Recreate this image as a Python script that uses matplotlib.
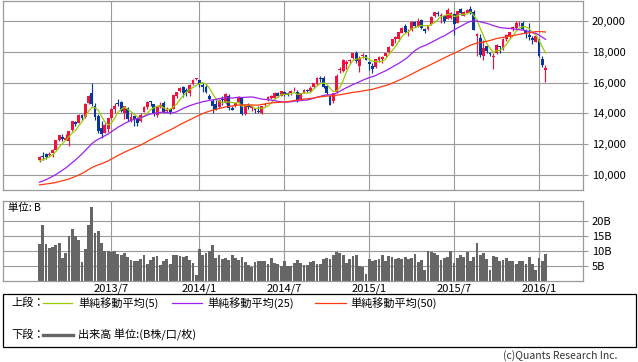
import numpy as np
import pandas as pd
import matplotlib
matplotlib.use("Agg")
import matplotlib.pyplot as plt
from matplotlib.lines import Line2D
from matplotlib.patches import Rectangle

# 週足データ (2013/1/28週 ～ 2016/1/18週)
opens = [10950, 11250, 11370, 11290, 11420, 11650, 12300, 12480, 12300, 12200,
         12900, 13450, 13400, 13900, 13750, 14700, 15300, 14500, 13850, 13050,
         12750, 13000, 13700, 14300, 14650, 14750, 14000, 14350, 13500, 13800,
         13650, 13500, 14100, 14400, 14800, 14600, 13900, 14400, 14650, 14150,
         14250, 14300, 15150, 15450, 15700, 15500, 15300, 15900, 16200, 16150,
         15850, 15700, 15100, 14800, 14600, 14400, 14950, 14650, 15150, 14350,
         14450, 14750, 15000, 13950, 14550, 14350, 14300, 14150, 14000, 14550,
         14900, 15000, 15000, 15350, 15150, 15400, 15300, 15300, 15500, 15400,
         14900, 15350, 15500, 15450, 15700, 15900, 16250, 16300, 15800, 15100,
         14800, 15400, 16800, 16750, 17200, 17400, 17600, 17900, 17100, 17700,
         17800, 17350, 17100, 17000, 17450, 17550, 17700, 18000, 18400, 18800,
         18800, 19250, 19650, 19400, 19400, 19950, 19700, 20050, 19500, 19450,
         19800, 20300, 20550, 20300, 20350, 20150, 20200, 20450, 19900, 20800,
         20350, 20550, 20800, 20600, 19000, 18900, 17700, 18350, 17900, 17650,
         17900, 18350, 18150, 18850, 19000, 19450, 19550, 19850, 19900, 19400,
         19100, 18900, 18650, 18820, 17500, 16800]
highs = [11220, 11460, 11410, 11500, 11670, 12300, 12570, 12650, 12650, 12860,
         13500, 13530, 13980, 13960, 14650, 15160, 15942, 14700, 13950, 13500,
         13400, 13700, 14350, 14650, 14950, 14800, 14500, 14400, 14050, 13850,
         13700, 14000, 14450, 14820, 14820, 14600, 14450, 14750, 14800, 14400,
         14300, 15200, 15400, 15700, 15800, 15650, 15900, 16200, 16320, 16170,
         16000, 15900, 15250, 14900, 14850, 14900, 15100, 15300, 15250, 14500,
         14700, 15100, 15000, 14550, 14650, 14500, 14320, 14450, 14500, 14700,
         15100, 15200, 15400, 15400, 15450, 15450, 15400, 15500, 15700, 15500,
         15350, 15600, 15600, 15750, 15950, 16350, 16400, 16400, 15850, 15100,
         15300, 16530, 17000, 17500, 17450, 17520, 17950, 18030, 17700, 17900,
         17820, 17400, 17250, 17550, 17700, 17750, 17950, 18350, 18850, 19000,
         19300, 19600, 19780, 19500, 20000, 20010, 20200, 20150, 19550, 19750,
         20300, 20600, 20650, 20500, 20400, 20868, 20600, 20550, 20650, 20850,
         20650, 20800, 20950, 20700, 19250, 19150, 18770, 18400, 18000, 17900,
         18500, 18400, 18900, 19150, 19300, 19650, 20000, 20000, 20000, 19500,
         19900, 19000, 19100, 18820, 17700, 17150]
lows = [10830, 11000, 11050, 11250, 11150, 11600, 12230, 12180, 12250, 11900,
        12850, 13150, 13350, 13550, 13700, 14600, 14480, 13550, 12750, 12420,
        12700, 12800, 13650, 14050, 14450, 14100, 13600, 13500, 13450, 13200,
        13200, 13450, 14100, 14300, 14450, 13850, 13750, 14350, 14000, 14050,
        13950, 14250, 15000, 15400, 15050, 15150, 15150, 15850, 16150, 15700,
        15400, 15300, 14850, 13995, 14200, 14350, 14550, 14600, 14200, 14200,
        14400, 14750, 13900, 13900, 14300, 14150, 14000, 14050, 13950, 14500,
        14800, 14900, 14900, 15050, 15100, 15100, 15150, 15200, 15450, 14750,
        14850, 15300, 15400, 15400, 15650, 15850, 16050, 15650, 15200, 14530,
        14700, 15300, 16600, 16700, 16900, 17300, 17550, 17250, 16670, 17600,
        17450, 16800, 16600, 16950, 17350, 17300, 17650, 17950, 18400, 18600,
        18700, 19200, 19200, 19000, 19350, 19600, 19600, 19500, 19250, 19400,
        19750, 20250, 20300, 19900, 19850, 20100, 20100, 19115, 19850, 20400,
        20300, 20500, 20450, 19400, 17714, 17650, 17450, 17900, 17700, 16901,
        17850, 17950, 18100, 18700, 18900, 19350, 19500, 19700, 19400, 18900,
        18750, 18500, 18650, 17650, 17000, 16017]
closes = [11191, 11153, 11173, 11385, 11606, 12283, 12560, 12338, 12397, 12833,
          13485, 13316, 13884, 13694, 14607, 15138, 14612, 13774, 12877, 12686,
          13230, 13677, 14309, 14506, 14589, 14129, 14466, 13615, 13752, 13660,
          13389, 13861, 14404, 14742, 14760, 14024, 14404, 14561, 14088, 14201,
          14086, 15165, 15381, 15661, 15299, 15403, 15870, 16178, 16291, 15912,
          15734, 15391, 14914, 14462, 14313, 14865, 14841, 15274, 14327, 14224,
          14696, 15063, 13960, 14516, 14429, 14457, 14199, 14097, 14462, 14632,
          15077, 15097, 15349, 15095, 15437, 15164, 15215, 15457, 15523, 14778,
          15318, 15539, 15425, 15668, 15948, 16321, 16229, 15708, 15300, 14532,
          15291, 16413, 16880, 17490, 17357, 17459, 17920, 17371, 17621, 17818,
          17450, 17197, 16864, 17511, 17674, 17648, 17913, 18332, 18798, 18971,
          19254, 19560, 19286, 19435, 19908, 19653, 20020, 19531, 19379, 19733,
          20264, 20563, 20461, 20407, 19990, 20706, 20539, 19780, 20650, 20544,
          20585, 20724, 20519, 19435, 19136, 17792, 18264, 18070, 17880, 17725,
          18438, 18291, 18825, 19083, 19265, 19597, 19879, 19883, 19504, 19230,
          18986, 18769, 19033, 17697, 17147, 16958]

# 移動平均用の過去終値 (2012/2 ～ 2013/1)
prev_closes = [8947, 9384, 9647, 9777, 9929, 10129, 10011, 10084, 9689, 9638,
               9561, 9521, 9380, 8954, 8611, 8580, 8440, 8459, 8721, 8798,
               9007, 9021, 8725, 8670, 8566, 8555, 8891, 9163, 9070, 8839,
               8871, 9159, 9110, 8870, 8863, 8534, 9002, 8933, 9051, 8757,
               9024, 9366, 9446, 9527, 9737, 9940, 10395, 10688, 10801, 10913,
               10926]

# 出来高 (B)
volume = [12.2, 18.5, 12.2, 11.0, 11.4, 12.0, 12.7, 7.6, 9.2, 15.1,
          17.2, 15.1, 13.6, 6.3, 10.8, 18.5, 24.5, 15.9, 16.5, 12.5,
          10.0, 9.9, 9.5, 9.9, 9.0, 8.6, 9.4, 8.0, 7.0, 6.8,
          6.7, 7.2, 8.8, 5.8, 7.1, 8.0, 8.2, 5.2, 6.6, 7.4,
          5.8, 8.5, 8.6, 8.2, 8.0, 8.2, 7.0, 6.0, 2.0, 10.6,
          8.6, 9.2, 10.0, 11.9, 7.8, 8.6, 7.4, 7.6, 7.0, 8.8,
          7.6, 6.9, 7.9, 6.4, 5.2, 4.5, 6.2, 6.8, 6.7, 6.5,
          5.8, 7.6, 6.0, 5.6, 5.1, 6.5, 5.1, 5.1, 6.0, 6.9,
          6.0, 5.2, 5.2, 6.2, 6.8, 5.8, 5.8, 7.4, 7.7, 7.4,
          8.6, 9.8, 9.2, 8.6, 5.9, 7.4, 8.3, 8.6, 5.0, 4.7,
          2.3, 7.3, 6.5, 7.0, 7.3, 8.6, 6.5, 8.2, 8.0, 7.4,
          7.8, 7.4, 8.1, 7.4, 7.8, 9.0, 6.3, 7.0, 3.8, 9.9,
          9.6, 9.2, 8.6, 6.9, 7.7, 8.0, 9.9, 6.0, 7.5, 8.6,
          8.1, 9.8, 6.5, 8.0, 12.8, 8.8, 9.2, 7.2, 3.6, 8.2,
          8.1, 6.5, 7.0, 7.5, 6.5, 6.8, 5.8, 6.8, 6.6, 5.5,
          7.9, 5.5, 3.5, 7.8, 6.8, 9.1]

price_ticks = [10000, 12000, 14000, 16000, 18000, 20000]
vol_ticks = [5, 10, 15, 20]

plt.rcParams['font.family'] = ['Noto Sans CJK JP', 'DejaVu Sans']

weeks = pd.date_range("2013-01-28", periods=len(closes), freq="W-MON")
x = np.arange(len(closes))
o = np.array(opens, dtype=float)
h = np.array(highs, dtype=float)
l = np.array(lows, dtype=float)
c = np.array(closes, dtype=float)

all_close = pd.Series(prev_closes + closes, dtype=float)
n = len(closes)
ma5 = all_close.rolling(5).mean().values[-n:]
ma25 = all_close.rolling(25).mean().values[-n:]
ma50 = all_close.rolling(50).mean().values[-n:]

# 月替わり (1月/7月) の週
tick_idx = [i for i in range(1, n)
            if weeks[i].month != weeks[i - 1].month and weeks[i].month in (1, 7)]
tick_lbl = [f"{weeks[i].year}/{weeks[i].month}" for i in tick_idx]

RED = "#f0123e"
BLUE = "#06389c"
GRID = "#9a9a9a"
W, H = 638, 362


def box(left, top, right, bottom):
    return [left / W, 1 - bottom / H, (right - left) / W, (bottom - top) / H]


fig = plt.figure(figsize=(W / 100, H / 100), dpi=100)
ax = fig.add_axes(box(3, 0.5, 582.7, 190.3))
axv = fig.add_axes(box(3, 201, 582.7, 281))

# --- 上段: ローソク足 + 移動平均 ---
up = c >= o
cols = np.where(up, RED, BLUE)
ax.vlines(x, l, h, colors=cols, lw=0.85, zorder=2)
ax.bar(x, np.maximum(np.abs(c - o), 40), bottom=np.minimum(o, c),
       width=0.88, color=cols, linewidth=0, zorder=3)
ax.plot(x, ma5, color="#99cc00", lw=0.9, zorder=4)
ax.plot(x, ma25, color="#a020f0", lw=0.9, zorder=4)
ax.plot(x, ma50, color="#ff3a10", lw=0.9, zorder=4)

ax.set_xlim(-11.2, 166.4)
ax.set_ylim(9000, 21330)
ax.set_yticks(price_ticks)
ax.set_yticklabels([f"{v:,}" for v in price_ticks])
ax.set_xticks(tick_idx)
ax.set_xticklabels([])

# --- 下段: 出来高 ---
axv.bar(x, volume, width=0.86, color="#666666", linewidth=0, zorder=2)
axv.set_xlim(-11.2, 166.4)
axv.set_ylim(0, 26.6)
axv.set_yticks(vol_ticks)
axv.set_yticklabels([f"{v}B" for v in vol_ticks])
axv.set_xticks(tick_idx)
axv.set_xticklabels(tick_lbl)
axv.text(0.009, 0.975, "単位: B", transform=axv.transAxes,
         ha="left", va="top", fontsize=7.5)

for a in (ax, axv):
    a.grid(True, color=GRID, lw=0.8, zorder=0)
    a.set_axisbelow(True)
    for s in a.spines.values():
        s.set_color(GRID)
        s.set_linewidth(0.9)
    a.yaxis.tick_right()
    a.tick_params(axis="y", length=3.5, color=GRID, pad=3, labelsize=8)
    a.tick_params(axis="x", length=0, pad=1.5, labelsize=8)

# --- 凡例 ---
fig.add_artist(Rectangle((3 / W, 1 - 346.5 / H), 633 / W, 52.5 / H,
                         transform=fig.transFigure, fill=False,
                         edgecolor="black", lw=0.9))


def ftext(px, py, s, **kw):
    kw.setdefault("fontsize", 8)
    fig.text(px / W, 1 - py / H, s, va="center", **kw)


def fline(x0, x1, py, **kw):
    fig.add_artist(Line2D([x0 / W, x1 / W], [1 - py / H] * 2,
                          transform=fig.transFigure, **kw))


ftext(11, 303, "上段：")
fline(43, 72, 303, color="#99cc00", lw=0.9)
ftext(78, 303, "単純移動平均(5)")
fline(172, 202, 303, color="#a020f0", lw=0.9)
ftext(207, 303, "単純移動平均(25)")
fline(315, 346, 303, color="#ff3a10", lw=0.9)
ftext(350, 303, "単純移動平均(50)")
ftext(11, 335, "下段：")
fline(43, 73, 335, color="#666666", lw=2.4)
ftext(78, 335, "出来高 単位:(B株/口/枚)")
ftext(617, 356, "(c)Quants Research Inc.", ha="right", fontsize=7.5, color="#333333")

fig.savefig("out.png", dpi=100)
